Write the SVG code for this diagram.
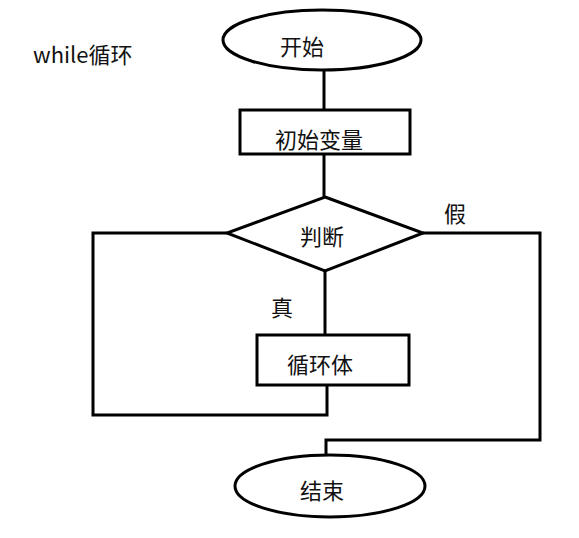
<svg xmlns="http://www.w3.org/2000/svg" width="579" height="538" viewBox="0 0 579 538">
<style>
.s{fill:#fff;stroke:#000;stroke-width:3}
.c{fill:none;stroke:#000;stroke-width:3}
text{font-family:"Noto Sans CJK SC","Noto Sans",sans-serif;font-size:22px;fill:#111}
.m{text-anchor:middle}
</style>
<rect width="579" height="538" fill="#fff"/>
<text id="title" x="33" y="63">while循环</text>
<g id="connectors">
<path class="c" d="M324 70V110"/>
<path class="c" d="M324 154V197"/>
<path class="c" d="M325 271V335"/>
<path class="c" d="M227 233H93V415H327V386"/>
<path class="c" d="M423 233H540V440H326V455"/>
<text x="455" y="222" class="m">假</text>
<text x="282" y="316" class="m">真</text>
</g>
<g id="start">
<ellipse class="s" cx="322" cy="40" rx="99" ry="30"/>
<text x="302" y="55" class="m">开始</text>
</g>
<g id="init">
<rect class="s" x="240" y="110" width="170" height="44"/>
<text x="319" y="148" class="m">初始变量</text>
</g>
<g id="cond">
<polygon class="s" points="325,197 423,233 325,271 227,233"/>
<text x="322" y="245" class="m">判断</text>
</g>
<g id="body">
<rect class="s" x="257" y="335" width="152" height="50"/>
<text x="320" y="373" class="m">循环体</text>
</g>
<g id="end">
<ellipse class="s" cx="330" cy="486" rx="95" ry="31"/>
<text x="322" y="499" class="m">结束</text>
</g>
</svg>
